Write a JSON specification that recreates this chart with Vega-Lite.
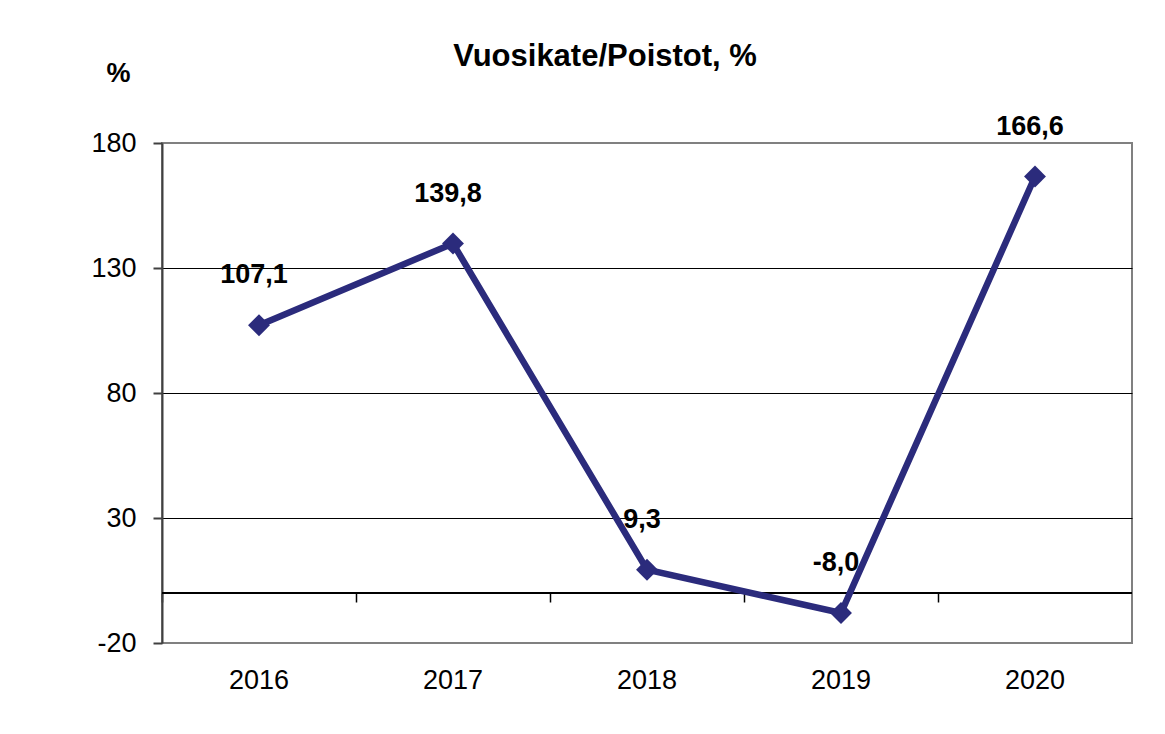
{
  "$schema": "https://vega.github.io/schema/vega-lite/v6.json",
  "width": 970,
  "height": 500,
  "autosize": {"type": "none"},
  "padding": {"left": 162, "top": 143, "right": 33, "bottom": 91},
  "background": "white",
  "config": {
    "font": "Liberation Sans",
    "locale": {"number": {"decimal": ",", "thousands": " ", "grouping": [3], "currency": ["", " €"], "minus": "-"}},
    "view": {"stroke": "#808080", "strokeWidth": 2}
  },
  "title": {
    "text": "Vuosikate/Poistot, %",
    "fontSize": 31,
    "fontWeight": "bold",
    "color": "#000000",
    "anchor": "middle",
    "dx": -42,
    "dy": 18
  },
  "data": {
    "values": [
      {"year": "2016", "value": 107.1},
      {"year": "2017", "value": 139.8},
      {"year": "2018", "value": 9.3},
      {"year": "2019", "value": -8.0},
      {"year": "2020", "value": 166.6}
    ]
  },
  "resolve": {"axis": {"x": "independent"}},
  "layer": [
    {
      "mark": {"type": "rule", "color": "#000000", "strokeWidth": 1.5},
      "encoding": {
        "y": {"datum": 0, "type": "quantitative"}
      }
    },
    {
      "mark": {"type": "line", "color": "#2b2b7c", "strokeWidth": 6.5},
      "encoding": {
        "x": {
          "field": "year",
          "type": "ordinal",
          "scale": {"type": "band", "paddingInner": 0, "paddingOuter": 0},
          "axis": {
            "orient": "bottom",
            "title": null,
            "domain": false,
            "ticks": false,
            "labelAngle": 0,
            "labelFontSize": 27,
            "labelColor": "#000000",
            "labelPadding": 24,
            "labelBaseline": "top"
          }
        },
        "y": {
          "field": "value",
          "type": "quantitative",
          "scale": {"domain": [-20, 180], "nice": false, "zero": false},
          "axis": {
            "values": [-20, 30, 80, 130, 180],
            "title": "%",
            "titleAngle": 0,
            "titleFontSize": 27,
            "titleFontWeight": "bold",
            "titleColor": "#000000",
            "titleAlign": "center",
            "titleBaseline": "alphabetic",
            "titleX": -44,
            "titleY": -62,
            "labelFontSize": 27,
            "labelColor": "#000000",
            "labelPadding": 17,
            "tickSize": 9,
            "tickColor": "#404040",
            "tickWidth": 2,
            "domainColor": "#404040",
            "domainWidth": 2,
            "grid": true,
            "gridColor": "#000000",
            "gridWidth": 1,
            "gridOpacity": {"condition": {"test": "datum.value === -20 || datum.value === 180", "value": 0}, "value": 1}
          }
        }
      }
    },
    {
      "mark": {"type": "point", "shape": "diamond", "filled": true, "size": 480, "opacity": 1, "color": "#2b2b7c"},
      "encoding": {
        "x": {"field": "year", "type": "ordinal", "axis": null},
        "y": {"field": "value", "type": "quantitative"}
      }
    },
    {
      "mark": {"type": "text", "fontSize": 27, "fontWeight": "bold", "color": "#000000", "baseline": "middle", "align": "center", "dy": -50, "dx": -5},
      "encoding": {
        "x": {
          "field": "year",
          "type": "ordinal",
          "axis": {
            "orient": "bottom",
            "offset": -50,
            "domain": false,
            "labels": false,
            "title": null,
            "ticks": true,
            "bandPosition": 0,
            "tickSize": 9,
            "tickColor": "#000000",
            "tickWidth": 1.5
          }
        },
        "y": {"field": "value", "type": "quantitative"},
        "text": {"field": "value", "type": "quantitative", "format": ".1f"}
      }
    }
  ]
}
